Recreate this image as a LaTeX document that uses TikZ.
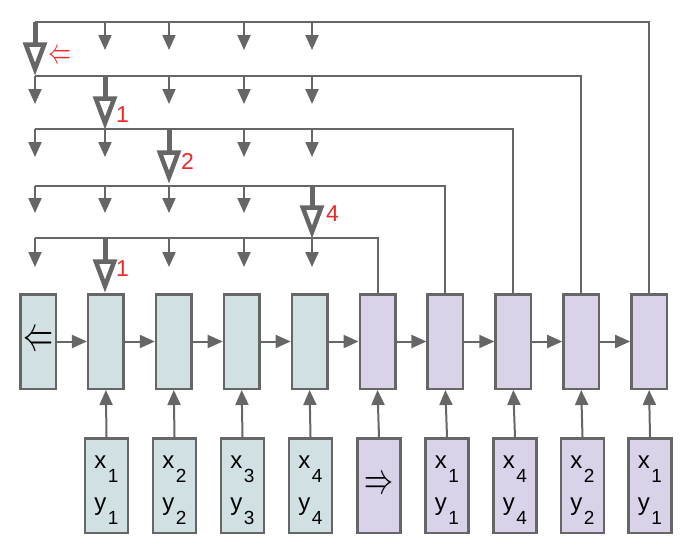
\documentclass[tikz,border=0pt]{standalone}
\usepackage{fontspec}
\setmainfont{Liberation Sans}
\usetikzlibrary{arrows.meta}
\definecolor{lg}{HTML}{666666}
\definecolor{cellA}{HTML}{D0E0E3}
\definecolor{cellB}{HTML}{D9D2E9}
\definecolor{lab}{HTML}{F0282A}
\newcommand\sbs[1]{\hspace{1.5pt}\raisebox{-14pt}{\fontsize{19}{19}\selectfont #1}}
\newcommand\xyl[2]{\makebox[0pt]{\raisebox{17.5pt}[0pt][0pt]{x\sbs{#1}}}\makebox[0pt]{\raisebox{-24.5pt}[0pt][0pt]{y\sbs{#2}}}}
\newcommand\bigarr[3]{%
  \draw[shaft] (#1,#2) -- (#1,#3-31);
  \draw[big] (#1-9.2,#3-30.5) -- (#1+9.2,#3-30.5) -- (#1,#3-6) -- cycle;}
\begin{document}
\begin{tikzpicture}[x=1pt,y=-1pt,
  cell/.style={draw=lg, line width=2.5pt, minimum width=35.5pt, minimum height=94.5pt, inner sep=0pt},
  inbox/.style={draw=lg, line width=2.5pt, minimum width=43pt, minimum height=94.5pt, inner sep=0pt, font=\fontsize{24}{24}\selectfont},
  conn/.style={draw=lg, line width=2pt},
  arr/.style={conn, -{Triangle[length=15pt,width=13pt]}},
  big/.style={draw=lg, line width=4.5pt, fill=white, line join=miter},
  shaft/.style={draw=lg, line width=5pt},
  lbl/.style={text=lab, font=\fontsize{23}{23}\selectfont, inner sep=0pt, anchor=west},
]
\useasboundingbox (0,0) rectangle (690,554);
% recurrent cells
\foreach \i in {0,...,9}{
  \pgfmathsetmacro\cx{38+67.9*\i}
  \ifnum\i<5 \def\fc{cellA}\else\def\fc{cellB}\fi
  \node[cell, fill=\fc] (c\i) at (\cx,341.5) {};
}
\node at (c0) [inner sep=0pt] {\resizebox{30pt}{18pt}{$\Leftarrow$}};
% input boxes
\node[inbox, fill=cellA] (in1) at (106.5,485.5) {\xyl{1}{1}};
\node[inbox, fill=cellA] (in2) at (174.5,485.5) {\xyl{2}{2}};
\node[inbox, fill=cellA] (in3) at (242.5,485.5) {\xyl{3}{3}};
\node[inbox, fill=cellA] (in4) at (310.5,485.5) {\xyl{4}{4}};
\node[inbox, fill=cellB] (in5) at (379,485.5) {\raisebox{-2.5pt}{\resizebox{29pt}{16pt}{$\Rightarrow$}}};
\node[inbox, fill=cellB] (in6) at (447,485.5) {\xyl{1}{1}};
\node[inbox, fill=cellB] (in7) at (515,485.5) {\xyl{4}{4}};
\node[inbox, fill=cellB] (in8) at (582.5,485.5) {\xyl{2}{2}};
\node[inbox, fill=cellB] (in9) at (650,485.5) {\xyl{1}{1}};
% connections
\foreach \i [count=\j] in {0,...,8}{
  \draw[arr] (c\i.east) -- (c\j.west);
}
\foreach \i in {1,...,9}{
  \draw[arr] (in\i.north) -- (c\i.south);
}
% row lines
\coordinate (L1) at (35,22);
\coordinate (L2) at (35,76);
\coordinate (L3) at (35,129);
\coordinate (L4) at (35,186);
\coordinate (L5) at (35,238);
\draw[conn] (L1) -| (c9.north);
\draw[conn] (L2) -| (c8.north);
\draw[conn] (L3) -| (c7.north);
\draw[conn] (L4) -| (c6.north);
\draw[conn] (L5) -| (c5.north);
% small arrows
\foreach \x in {105,169,244,312}{ \draw[arr] (\x,22) -- (\x,50); }
\foreach \x in {35,169,244,312}{ \draw[arr] (\x,76) -- (\x,104); }
\foreach \x in {35,105,244,312}{ \draw[arr] (\x,129) -- (\x,157); }
\foreach \x in {35,105,169,244}{ \draw[arr] (\x,186) -- (\x,213); }
\foreach \x in {35,169,244,312}{ \draw[arr] (\x,238) -- (\x,267); }
% big arrows
\bigarr{35}{22}{75}
\bigarr{105}{76}{129}
\bigarr{169}{129}{183}
\bigarr{312}{186}{238}
\bigarr{105}{238}{292}
% labels
\node[lbl] (t1) at (48,57) {\resizebox{23pt}{13pt}{$\Leftarrow$}};
\node[lbl] (t2) at (116,115) {1};
\node[lbl] (t3) at (181,161.5) {2};
\node[lbl] (t4) at (326,213.5) {4};
\node[lbl] (t5) at (116,269) {1};
\end{tikzpicture}
\end{document}
